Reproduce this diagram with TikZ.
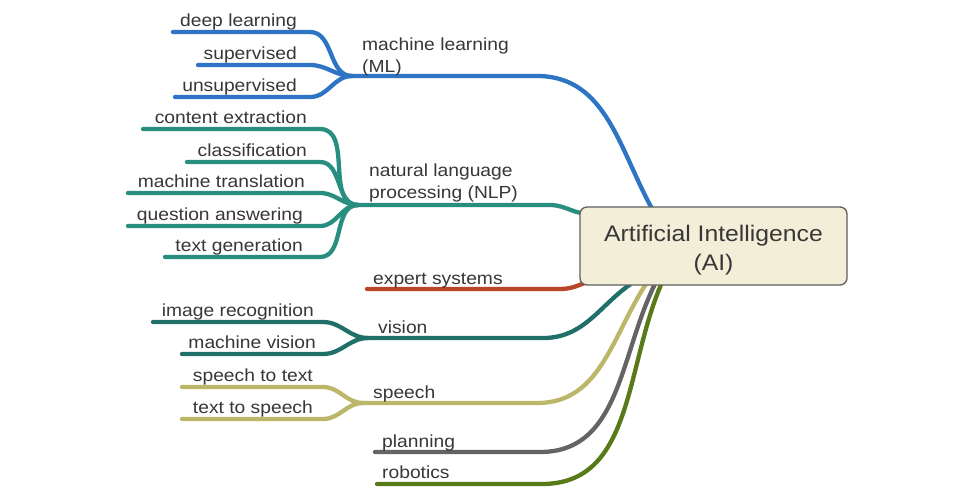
\documentclass[tikz,border=0pt]{standalone}
\usepackage{fontspec}
\setmainfont{Liberation Sans}[FakeStretch=1.1]
\usetikzlibrary{backgrounds}
\definecolor{cml}{RGB}{45,117,196}
\definecolor{cnlp}{RGB}{40,143,128}
\definecolor{cexp}{RGB}{185,70,40}
\definecolor{cvis}{RGB}{32,112,105}
\definecolor{cspe}{RGB}{188,182,105}
\definecolor{cpla}{RGB}{100,100,100}
\definecolor{crob}{RGB}{88,122,25}
\definecolor{txt}{RGB}{55,55,55}
\definecolor{boxfill}{RGB}{243,238,216}
\definecolor{boxline}{RGB}{95,95,95}
\begin{document}
\begin{tikzpicture}[x=1pt,y=-1pt,
  lbl/.style={font=\fontsize{17.5}{21.5}\selectfont, text=txt, inner sep=0pt},
  lblE/.style={lbl, anchor=base east},
  lblW/.style={lbl, anchor=base west, align=left},
  br/.style={line width=4.3pt, line cap=round},
  aibox/.style={draw=boxline, line width=1.3pt, fill=boxfill, rounded corners=7pt,
    minimum width=267pt, minimum height=78pt, inner sep=0pt},
  aitext/.style={align=center, text=txt, font=\fontsize{22.5}{29}\selectfont, inner sep=0pt}]
\useasboundingbox (0,0) rectangle (957,491);

% central node
\node[aibox] (ai) at (713.5,246) {};
\node[aitext] (ait) at (713.5,250) {Artificial Intelligence\\(AI)};

% ---------- labels ----------
% ML
\node[lblW] (ml) at (362,72) {machine learning\\(ML)};
\node[lblE] (dl) at (297,26) {deep learning};
\node[lblE] (sup) at (297,59) {supervised};
\node[lblE] (uns) at (297,91) {unsupervised};
% NLP
\node[lblW] (nlp) at (369,198) {natural language\\processing (NLP)};
\node[lblE] (ce) at (307,123) {content extraction};
\node[lblE] (cl) at (307,156) {classification};
\node[lblE] (mt) at (305,187) {machine translation};
\node[lblE] (qa) at (303,220) {question answering};
\node[lblE] (tg) at (303,251) {text generation};
% expert
\node[lblW] (ex) at (373,284) {expert systems};
% vision
\node[lblW] (vi) at (378,333) {vision};
\node[lblE] (ir) at (314,316) {image recognition};
\node[lblE] (mv) at (316,348) {machine vision};
% speech
\node[lblW] (sp) at (373,398) {speech};
\node[lblE] (stt) at (313,381) {speech to text};
\node[lblE] (tts) at (313,413) {text to speech};
% planning, robotics
\node[lblW] (pl) at (382,447) {planning};
\node[lblW] (ro) at (382,478) {robotics};

% ---------- coordinates ----------
\coordinate (mlj) at (352,76);   \coordinate (mle) at (537,76);  \coordinate (mlb) at (655,214);
\coordinate (dls) at (173,32);   \coordinate (dle) at (310,32);
\coordinate (sups) at (198,65);  \coordinate (supe) at (310,65);
\coordinate (unss) at (175,97);  \coordinate (unse) at (310,97);

\coordinate (nlpj) at (358,205); \coordinate (nlpe) at (550,205); \coordinate (nlpb) at (592,213);
\coordinate (ces) at (143,129);  \coordinate (cee) at (320,129);
\coordinate (cls) at (187,162);  \coordinate (cle) at (320,162);
\coordinate (mts) at (128,193);  \coordinate (mte) at (320,193);
\coordinate (qas) at (128,226);  \coordinate (qae) at (320,226);
\coordinate (tgs) at (165,257);  \coordinate (tge) at (320,257);

\coordinate (exs) at (367,289);  \coordinate (exe) at (560,289); \coordinate (exb) at (592,280);

\coordinate (vij) at (368,338);  \coordinate (vie) at (543,338); \coordinate (vib) at (640,278);
\coordinate (irs) at (153,322);  \coordinate (ire) at (323,322);
\coordinate (mvs) at (182,354);  \coordinate (mve) at (323,354);

\coordinate (spj) at (363,403);  \coordinate (spe) at (537,403); \coordinate (spb) at (650,278);
\coordinate (stts) at (182,387); \coordinate (stte) at (323,387);
\coordinate (ttss) at (182,419); \coordinate (ttse) at (323,419);

\coordinate (pls) at (375,452);  \coordinate (ple) at (540,452); \coordinate (plb) at (658,278);
\coordinate (ros) at (377,484);  \coordinate (roe) at (542,484); \coordinate (rob) at (664,278);

% ---------- connectors ----------
\begin{pgfonlayer}{background}
\fill[white] (0,0) rectangle (957,491);
% ML
\draw[br,cml] (dls) -- (dle) to[out=0,in=180] (mlj);
\draw[br,cml] (sups) -- (supe) to[out=0,in=180] (mlj);
\draw[br,cml] (unss) -- (unse) to[out=0,in=180] (mlj);
\draw[br,cml] (mlj) -- (mle) to[out=0,in=120] (mlb);
% NLP
\draw[br,cnlp] (ces) -- (cee) to[out=0,in=180] (nlpj);
\draw[br,cnlp] (cls) -- (cle) to[out=0,in=180] (nlpj);
\draw[br,cnlp] (mts) -- (mte) to[out=0,in=180] (nlpj);
\draw[br,cnlp] (qas) -- (qae) to[out=0,in=180] (nlpj);
\draw[br,cnlp] (tgs) -- (tge) to[out=0,in=180] (nlpj);
\draw[br,cnlp] (nlpj) -- (nlpe) to[out=0,in=190] (nlpb);
% expert
\draw[br,cexp] (exs) -- (exe) to[out=0,in=200] (exb);
% vision
\draw[br,cvis] (irs) -- (ire) to[out=0,in=180] (vij);
\draw[br,cvis] (mvs) -- (mve) to[out=0,in=180] (vij);
\draw[br,cvis] (vij) -- (vie) to[out=0,in=210] (vib);
% speech
\draw[br,cspe] (stts) -- (stte) to[out=0,in=180] (spj);
\draw[br,cspe] (ttss) -- (ttse) to[out=0,in=180] (spj);
\draw[br,cspe] (spj) -- (spe) to[out=0,in=235] (spb);
% planning, robotics
\draw[br,cpla] (pls) -- (ple) to[out=0,in=242] (plb);
\draw[br,crob] (ros) -- (roe) to[out=0,in=245] (rob);
\end{pgfonlayer}
\end{tikzpicture}
\end{document}
